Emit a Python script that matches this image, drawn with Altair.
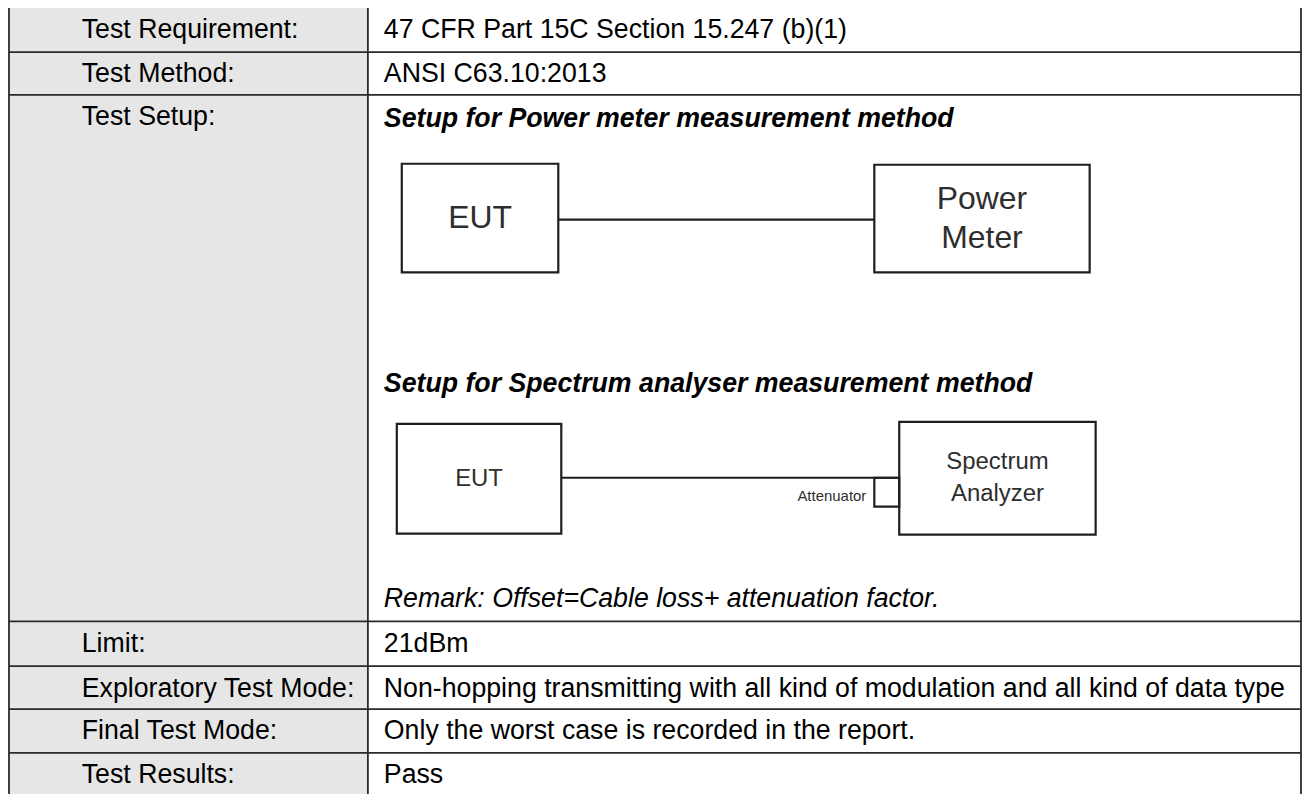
import altair as alt
import pandas as pd

# ---------------- content ----------------
labels = ["Test Requirement:", "Test Method:", "Test Setup:", "Limit:",
          "Exploratory Test Mode:", "Final Test Mode:", "Test Results:"]
values = ["47 CFR Part 15C Section 15.247 (b)(1)", "ANSI C63.10:2013", "", "21dBm",
          "Non-hopping transmitting with all kind of modulation and all kind of data type",
          "Only the worst case is recorded in the report.", "Pass"]
setup_headings = ["Setup for Power meter measurement method",
                  "Setup for Spectrum analyser measurement method"]
remark = "Remark: Offset=Cable loss+ attenuation factor."
diagram1_labels = [["EUT"], ["Power", "Meter"]]
diagram2_labels = [["EUT"], ["Spectrum", "Analyzer"]]
attenuator_label = "Attenuator"

# ---------------- layout (page pixels) ----------------
row_edges = [6, 51, 94, 622, 667, 710, 754, 800]
table_left, col_split, table_right = 9, 369, 1305
label_x, value_x = 82, 385
heading_y = [118, 384]
remark_y = 600
d1_boxes = [(403, 560, 163, 272), (877, 1093, 164, 272)]
d1_wire = (560, 877, 219)
d2_boxes = [(398, 563, 424, 534), (902, 1099, 422, 535)]
d2_wire = (563, 902, 478)
att_box = (877, 902, 478, 507)
att_text = (869, 496)

FONT = "Liberation Sans"
TXT = 26.8

xs = alt.Scale(domain=[8, 1306])
ys = alt.Scale(domain=[8, 794], reverse=True)


def X(f):
    return alt.X(f, type="quantitative", scale=xs, axis=None)


def Y(f):
    return alt.Y(f, type="quantitative", scale=ys, axis=None)


# gray label column
bg = pd.DataFrame([{"x": table_left, "x2": col_split, "y": row_edges[0], "y2": row_edges[-1]}])
bg_layer = alt.Chart(bg).mark_rect(color="#e6e6e6").encode(
    x=X("x"), x2="x2", y=Y("y"), y2="y2")

# grid lines
grid = []
for e in row_edges[:-1]:
    grid.append({"x": table_left, "x2": table_right, "y": e, "y2": e})
for vx in (table_left, col_split, table_right):
    grid.append({"x": vx, "x2": vx, "y": row_edges[0], "y2": row_edges[-1]})
grid_layer = alt.Chart(pd.DataFrame(grid)).mark_rule(color="#2a2a2a", strokeWidth=1.8).encode(
    x=X("x"), x2="x2", y=Y("y"), y2="y2")

# table text
lab_rows = [{"x": label_x, "y": row_edges[i] + 22.5, "t": labels[i]} for i in range(len(labels))]
val_rows = [{"x": value_x, "y": row_edges[i] + 22.5, "t": values[i]} for i in range(len(values)) if values[i]]
txt_df = pd.DataFrame(lab_rows + val_rows)
txt_layer = alt.Chart(txt_df).mark_text(font=FONT, fontSize=TXT, align="left", baseline="middle",
                                         color="#000000").encode(x=X("x"), y=Y("y"), text="t:N")

head_df = pd.DataFrame([{"x": value_x, "y": heading_y[i], "t": setup_headings[i]} for i in range(2)])
head_layer = alt.Chart(head_df).mark_text(font=FONT, fontSize=TXT, fontWeight="bold", fontStyle="italic",
                                           align="left", baseline="middle", color="#000000").encode(
    x=X("x"), y=Y("y"), text="t:N")

rem_df = pd.DataFrame([{"x": value_x, "y": remark_y, "t": remark}])
rem_layer = alt.Chart(rem_df).mark_text(font=FONT, fontSize=TXT, fontStyle="italic",
                                         align="left", baseline="middle", color="#000000").encode(
    x=X("x"), y=Y("y"), text="t:N")

# diagram boxes
boxes = [{"x": b[0], "x2": b[1], "y": b[2], "y2": b[3]} for b in d1_boxes + d2_boxes]
boxes.append({"x": att_box[0], "x2": att_box[1], "y": att_box[2], "y2": att_box[3]})
box_layer = alt.Chart(pd.DataFrame(boxes)).mark_rect(fill="#ffffff", fillOpacity=0, stroke="#1e1e1e",
                                                      strokeWidth=2.2).encode(
    x=X("x"), x2="x2", y=Y("y"), y2="y2")

wires = [{"x": w[0], "x2": w[1], "y": w[2], "y2": w[2]} for w in (d1_wire, d2_wire)]
wire_layer = alt.Chart(pd.DataFrame(wires)).mark_rule(color="#1e1e1e", strokeWidth=2.2).encode(
    x=X("x"), x2="x2", y=Y("y"), y2="y2")

# diagram labels
dl = []
for boxes_set, labs, size, gap in ((d1_boxes, diagram1_labels, 32, 40), (d2_boxes, diagram2_labels, 24, 32)):
    for b, lines in zip(boxes_set, labs):
        cx = (b[0] + b[1]) / 2
        cy = (b[2] + b[3]) / 2
        n = len(lines)
        for k, line in enumerate(lines):
            dl.append({"x": cx, "y": cy + (k - (n - 1) / 2) * gap, "t": line, "s": size})
dl.append({"x": att_text[0], "y": att_text[1], "t": attenuator_label, "s": 15})
dl_df = pd.DataFrame(dl)
dl_center = alt.Chart(dl_df[dl_df.t != attenuator_label]).mark_text(
    font=FONT, align="center", baseline="middle", color="#2e2e2e").encode(
    x=X("x"), y=Y("y"), text="t:N", size=alt.Size("s:Q", scale=None, legend=None))
dl_att = alt.Chart(dl_df[dl_df.t == attenuator_label]).mark_text(
    font=FONT, align="right", baseline="middle", color="#2e2e2e", fontSize=15).encode(
    x=X("x"), y=Y("y"), text="t:N")

chart = alt.layer(bg_layer, grid_layer, box_layer, wire_layer, txt_layer, head_layer, rem_layer,
                  dl_center, dl_att).properties(
    width=1298, height=786, padding=0,
    autosize=alt.AutoSizeParams(type="none"),
    background="#ffffff",
).configure_view(stroke=None)

chart.save("out.html", embed_options={"renderer": "svg", "actions": False})
